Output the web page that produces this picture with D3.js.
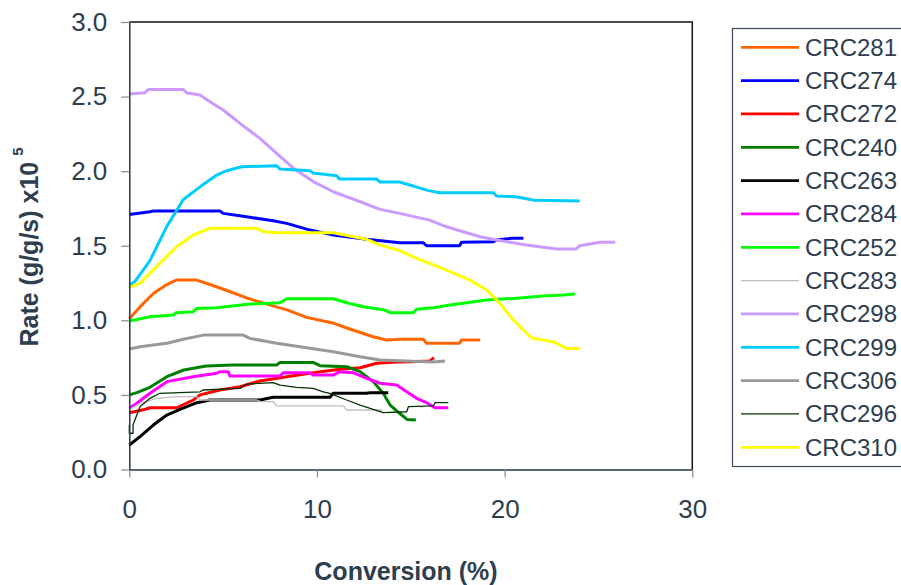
<!DOCTYPE html>
<html>
<head>
<meta charset="utf-8">
<script src="https://d3js.org/d3.v7.min.js"></script>
<style>
  body { margin: 0; background: #fff; }
  svg { font-family: "Liberation Sans", Arial, sans-serif; }
</style>
</head>
<body>
<div id="chart"></div>
<script>
// Series names (legend order = drawing order)
var names = ["CRC281", "CRC274", "CRC272", "CRC240", "CRC263", "CRC284", "CRC252",
             "CRC283", "CRC298", "CRC299", "CRC306", "CRC296", "CRC310"];

// Data: [conversion %, rate x10^5]
var crc281 = [[0,1.01],[0.57,1.09],[1.28,1.18],[2.0,1.24],[2.5,1.27],[3.6,1.27],[4.3,1.24],[5.2,1.20],
  [6.25,1.15],[7.3,1.11],[8.4,1.07],[9.45,1.02],[10.9,0.98],[11.9,0.935],[13.0,0.89],[13.7,0.868],
  [14.4,0.873],[15.67,0.873],[15.84,0.846],[17.6,0.846],[17.7,0.868],[18.7,0.868]];
var crc274 = [[0,1.71],[1.1,1.728],[1.28,1.733],[4.83,1.733],[5.0,1.717],[6.25,1.694],[7.67,1.668],
  [8.39,1.65],[9.63,1.605],[10.87,1.572],[12.65,1.543],[14.4,1.52],[15.67,1.52],[15.84,1.50],
  [17.6,1.50],[17.7,1.523],[19.4,1.527],[19.57,1.538],[20.37,1.55],[21.0,1.55]];
var crc272 = [[0,0.38],[0.75,0.40],[1.1,0.414],[2.52,0.414],[3.41,0.466],[3.77,0.50],[4.83,0.533],
  [5.9,0.555],[6.96,0.593],[8.39,0.622],[9.8,0.649],[11.22,0.672],[12.3,0.682],[13.18,0.712],
  [14.25,0.72],[15.0,0.722],[16.0,0.727],[16.23,0.75]];
var crc240 = [[0,0.50],[0.4,0.515],[1.1,0.551],[2.0,0.622],[2.9,0.667],[4.1,0.694],[5.5,0.70],
  [7.85,0.70],[8.03,0.718],[9.8,0.718],[10.16,0.696],[11.58,0.689],[12.3,0.656],[13.0,0.589],
  [13.53,0.511],[13.9,0.432],[14.4,0.377],[14.8,0.336],[15.27,0.332]];
var crc263 = [[0,0.164],[0.57,0.22],[1.28,0.298],[2.0,0.365],[2.7,0.403],[3.6,0.448],[4.3,0.466],
  [6.96,0.466],[7.67,0.484],[10.69,0.484],[10.87,0.511],[12.65,0.511],[12.82,0.515],[13.8,0.515]];
var crc284 = [[0,0.41],[0.4,0.444],[1.1,0.511],[2.0,0.589],[3.4,0.622],[4.66,0.645],[4.83,0.656],
  [5.27,0.656],[5.36,0.627],[8.03,0.627],[8.2,0.649],[9.63,0.649],[9.8,0.633],[10.87,0.633],
  [11.22,0.656],[11.93,0.649],[12.65,0.611],[13.36,0.578],[14.25,0.566],[14.78,0.521],
  [15.31,0.477],[15.84,0.448],[16.29,0.414],[17.0,0.414]];
var crc252 = [[0,0.995],[0.46,1.007],[1.1,1.024],[2.34,1.035],[2.5,1.051],[3.41,1.058],[3.6,1.08],
  [4.66,1.085],[6.43,1.109],[8.03,1.118],[8.39,1.145],[10.87,1.145],[11.58,1.118],[12.47,1.091],
  [13.6,1.069],[13.9,1.051],[15.13,1.051],[15.31,1.074],[16.2,1.085],[17.1,1.103],[17.97,1.118],
  [19.04,1.136],[20.46,1.147],[22.06,1.163],[23.12,1.17],[23.74,1.176]];
var crc283 = [[0,0.40],[0.57,0.444],[1.46,0.477],[2.52,0.488],[3.6,0.488],[3.77,0.466],[6.79,0.466],
  [7.0,0.455],[7.67,0.455],[7.85,0.426],[11.4,0.426],[11.58,0.399],[13.5,0.399]];
var crc298 = [[0,2.517],[0.84,2.526],[1.0,2.548],[2.88,2.548],[3.05,2.526],[3.77,2.51],[4.3,2.465],
  [5.0,2.41],[5.9,2.32],[6.96,2.22],[7.85,2.12],[8.74,2.02],[9.8,1.93],[10.87,1.862],[11.93,1.813],
  [12.3,1.795],[13.36,1.744],[14.4,1.717],[16.0,1.672],[16.9,1.627],[17.97,1.587],[18.7,1.56],
  [19.57,1.538],[21.17,1.505],[22.77,1.478],[23.8,1.478],[24.0,1.50],[25.08,1.523],[25.9,1.523]];
var crc299 = [[0,1.236],[0.3,1.26],[1.1,1.40],[2.0,1.63],[2.88,1.81],[3.77,1.895],[4.66,1.974],
  [5.19,2.003],[6.0,2.03],[7.85,2.036],[8.03,2.014],[9.63,2.003],[9.8,1.987],[11.05,1.97],
  [11.2,1.947],[13.18,1.947],[13.36,1.927],[14.4,1.927],[14.95,1.907],[15.84,1.873],[16.55,1.855],
  [19.4,1.855],[19.57,1.833],[20.6,1.828],[21.6,1.805],[24.0,1.80]];
var crc306 = [[0,0.808],[0.57,0.823],[2.0,0.846],[2.88,0.873],[3.94,0.901],[6.07,0.901],[6.43,0.879],
  [7.85,0.846],[9.09,0.823],[10.87,0.79],[12.3,0.756],[13.36,0.734],[14.4,0.729],[16.2,0.72],
  [16.82,0.727]];
var crc296 = [[0,0.30],[0,0.243],[0.2,0.243],[0.2,0.30],[0.57,0.421],[1.1,0.477],[1.63,0.511],
  [3.77,0.521],[3.94,0.533],[5.9,0.544],[6.25,0.573],[7.67,0.582],[8.03,0.566],[8.92,0.551],
  [9.8,0.544],[10.34,0.521],[10.69,0.511],[11.58,0.466],[12.3,0.432],[13.0,0.403],[13.53,0.381],
  [14.78,0.387],[14.87,0.421],[16.2,0.426],[16.29,0.448],[17.0,0.448]];
var crc310 = [[0,1.221],[0.57,1.248],[1.63,1.382],[2.52,1.493],[3.41,1.572],[4.3,1.617],[6.79,1.617],
  [7.14,1.594],[7.85,1.587],[10.87,1.587],[12.65,1.543],[13.36,1.505],[14.4,1.467],[15.13,1.426],
  [16.9,1.337],[18.15,1.27],[19.04,1.203],[19.75,1.114],[20.46,1.002],[21.17,0.913],[21.5,0.879],
  [22.59,0.857],[23.3,0.812],[24.0,0.812]];

var seriesData = [crc281, crc274, crc272, crc240, crc263, crc284, crc252,
                  crc283, crc298, crc299, crc306, crc296, crc310];

// Tick values
var xTicks = [0, 10, 20, 30];
var yTicks = [0, 0.5, 1.0, 1.5, 2.0, 2.5, 3.0];

// Styles
var colors = ["#ff6600", "#0000ff", "#ff0000", "#008000", "#000000", "#ff00ff", "#00ff00",
              "#c0c0c0", "#cc99ff", "#00ccff", "#999999", "#003300", "#ffff00"];
var widths = [3, 3, 3, 3, 3, 3, 3, 1.3, 3, 3, 3, 1.3, 3];
var textColor = "#2e3e4f";

// Chart size
var width = 901;
var height = 585;
var margin = { top: 22, right: 208.7, bottom: 115.5, left: 129.3 };
var innerWidth = width - margin.left - margin.right;
var innerHeight = height - margin.top - margin.bottom;

var svg = d3.select("#chart")
  .append("svg")
  .attr("width", width)
  .attr("height", height);

var chartGroup = svg.append("g")
  .attr("transform", "translate(" + margin.left + "," + margin.top + ")");

var xScale = d3.scaleLinear().domain([0, 30]).range([0, innerWidth]);
var yScale = d3.scaleLinear().domain([0, 3]).range([innerHeight, 0]);

// Top and right frame
chartGroup.append("path")
  .attr("d", "M0,0H" + innerWidth + "V" + innerHeight)
  .attr("fill", "none")
  .attr("stroke", "#111")
  .attr("stroke-width", 1.5);

// Lines
var line = d3.line()
  .x(function (d) { return xScale(d[0]); })
  .y(function (d) { return yScale(d[1]); });

seriesData.forEach(function (s, i) {
  chartGroup.append("path")
    .datum(s)
    .attr("d", line)
    .attr("fill", "none")
    .attr("stroke", colors[i])
    .attr("stroke-width", widths[i])
    .attr("stroke-linejoin", "round");
});

// Axes
var xAxis = chartGroup.append("g")
  .attr("transform", "translate(0," + innerHeight + ")")
  .call(d3.axisBottom(xScale).tickValues(xTicks).tickSize(8).tickSizeOuter(0).tickPadding(22));

var yAxis = chartGroup.append("g")
  .call(d3.axisLeft(yScale).tickValues(yTicks).tickFormat(d3.format(".1f"))
    .tickSize(8).tickSizeOuter(0).tickPadding(14));

[xAxis, yAxis].forEach(function (ax) {
  ax.select(".domain").attr("stroke", "#263545").attr("stroke-width", 1.5);
  ax.selectAll(".tick line").attr("stroke", "#7f8c99").attr("stroke-width", 1.2);
  ax.selectAll(".tick text")
    .attr("fill", textColor)
    .style("font-size", "26px")
    .style("font-family", "'Liberation Sans', Arial, sans-serif");
});

// Axis titles
svg.append("text")
  .attr("x", 406)
  .attr("y", 580)
  .attr("text-anchor", "middle")
  .attr("fill", textColor)
  .style("font-size", "25px")
  .style("font-weight", "bold")
  .text("Conversion (%)");

var yTitle = svg.append("text")
  .attr("transform", "translate(38,247) rotate(-90)")
  .attr("text-anchor", "middle")
  .attr("fill", textColor)
  .style("font-size", "25px")
  .style("font-weight", "bold");
yTitle.append("tspan").text("Rate (g/g/s) x10");
yTitle.append("tspan").attr("dx", 6).attr("dy", -15).style("font-size", "15px").text("5");

// Legend
var legend = svg.append("g");
legend.append("rect")
  .attr("x", 732.5)
  .attr("y", 28.5)
  .attr("width", 200)
  .attr("height", 438)
  .attr("fill", "#fff")
  .attr("stroke", "#3d4b5c")
  .attr("stroke-width", 1.2);

var rowY = d3.scaleLinear().domain([0, names.length - 1]).range([47.3, 447.3]);

names.forEach(function (name, i) {
  var y = rowY(i);
  legend.append("line")
    .attr("x1", 741).attr("x2", 799)
    .attr("y1", y).attr("y2", y)
    .attr("stroke", colors[i])
    .attr("stroke-width", widths[i] === 3 ? 2.8 : 1.2);
  legend.append("text")
    .attr("x", 805)
    .attr("y", y + 8.5)
    .attr("fill", textColor)
    .style("font-size", "24px")
    .text(name);
});
</script>
</body>
</html>
